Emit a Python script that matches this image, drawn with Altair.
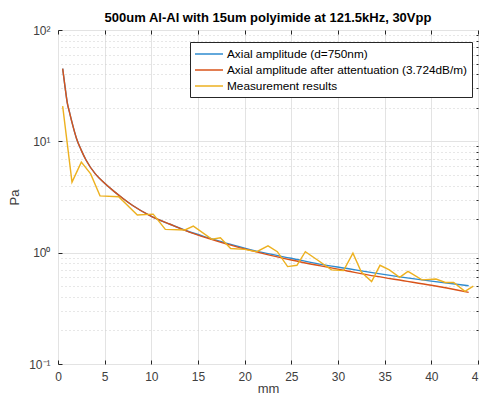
import altair as alt
import pandas as pd

# Theoretical curves
theory_x = [0.5, 0.75, 1, 1.25, 1.5, 2, 2.5, 3, 4, 5, 6, 7, 8, 10, 12, 14, 16, 18, 20, 22, 25, 28, 31, 34, 37, 40, 44]
axial = [45, 31, 22, 18, 14.8, 10.5, 8.3, 6.8, 5.1, 4.2, 3.55, 3.05, 2.65, 2.12, 1.8, 1.55, 1.37, 1.22, 1.1, 1.0, 0.89, 0.79, 0.72, 0.655, 0.60, 0.555, 0.505]
attenuated = [45, 31, 22, 18, 14.8, 10.5, 8.3, 6.8, 5.1, 4.2, 3.55, 3.05, 2.65, 2.12, 1.8, 1.54, 1.35, 1.2, 1.08, 0.98, 0.86, 0.765, 0.685, 0.615, 0.56, 0.51, 0.44]

# Measurement results
meas_x = [0.5, 1.5, 2.5, 3.5, 4.5, 6.5, 8.5, 10.2, 11.5, 13.6, 14.5, 16.5, 17.4, 18.5, 20.0, 21.3, 22.5, 23.5,
          24.6, 25.6, 26.5, 27.8, 29.3, 30.6, 31.6, 32.5, 33.6, 34.5, 35.5, 36.6, 37.5, 39.0, 40.5, 41.5, 42.4, 43.6, 44.5]
meas_y = [20.7, 4.3, 6.5, 5.1, 3.24, 3.18, 2.18, 2.22, 1.62, 1.60, 1.73, 1.32, 1.36, 1.09, 1.07, 1.02, 1.15, 1.02,
          0.75, 0.77, 1.02, 0.86, 0.70, 0.69, 0.99, 0.67, 0.55, 0.77, 0.70, 0.60, 0.68, 0.57, 0.58, 0.54, 0.54, 0.45, 0.50]

series_names = ["Axial amplitude (d=750nm)",
                "Axial amplitude after attentuation (3.724dB/m)",
                "Measurement results"]
series_colors = ["#2E8BCF", "#D95319", "#EDB120"]

x_ticks = [0, 5, 10, 15, 20, 25, 30, 35, 40, 45]
y_major = [0.1, 1, 10, 100]
y_minor = [m * 10.0 ** k for k in (-1, 0, 1) for m in range(2, 10)]

rows = []
for x, y in zip(theory_x, axial):
    rows.append({"mm": x, "Pa": y, "series": series_names[0]})
for x, y in zip(theory_x, attenuated):
    rows.append({"mm": x, "Pa": y, "series": series_names[1]})
for x, y in zip(meas_x, meas_y):
    rows.append({"mm": x, "Pa": y, "series": series_names[2]})
df = pd.DataFrame(rows)

FONT = "Liberation Sans"

xscale = alt.Scale(domain=[0, 45], nice=False, zero=False)
yscale = alt.Scale(type="log", domain=[0.1, 100], nice=False)

color = alt.Color("series:N",
                  scale=alt.Scale(domain=series_names, range=series_colors),
                  sort=series_names,
                  legend=alt.Legend(title=None, orient="none", legendX=132, legendY=12,
                                    symbolType="M-2,0L2,0", symbolSize=196, symbolStrokeWidth=1.5,
                                    symbolOffset=7, labelOffset=10,
                                    labelFont=FONT, labelFontSize=11.8, labelColor="#000000",
                                    labelLimit=0,
                                    padding=4, rowPadding=1,
                                    strokeColor="#262626", fillColor="#ffffff"))

label_expr = ("datum.value >= 99 ? '10\u00b2' : datum.value >= 9.9 ? '10\u00b9' : "
              "datum.value >= 0.99 ? '10\u2070' : '10\u207b\u00b9'")

def line_layer(name, interp):
    return alt.Chart(df).transform_filter(alt.datum.series == name).mark_line(
        strokeWidth=1.4, interpolate=interp, clip=True
    ).encode(
        x=alt.X("mm:Q", scale=xscale,
                axis=alt.Axis(values=x_ticks, title="mm", grid=True, gridColor="#e3e3e3",
                              domain=False, ticks=True, tickColor="#262626", tickSize=4, offset=-4,
                              labelPadding=7, labelFont=FONT, labelFontSize=12, labelColor="#404040",
                              titleFont=FONT, titleFontSize=13, titleFontWeight="normal",
                              titleColor="#404040", titlePadding=0, labelFlush=False)),
        y=alt.Y("Pa:Q", scale=yscale,
                axis=alt.Axis(values=y_major, title="Pa", grid=True, gridColor="#e3e3e3",
                              domain=False, ticks=True, tickColor="#262626", tickSize=4, offset=-4,
                              labelExpr=label_expr, labelPadding=8,
                              labelFont=FONT, labelFontSize=12, labelColor="#404040",
                              titleFont=FONT, titleFontSize=13, titleFontWeight="normal",
                              titleColor="#404040", titlePadding=7)),
        color=color,
    )

lines = alt.layer(
    line_layer(series_names[0], "monotone"),
    line_layer(series_names[1], "monotone"),
    line_layer(series_names[2], "linear"),
)

minor = alt.Chart(df).mark_point(opacity=0).encode(
    x=alt.X("mm:Q", scale=xscale,
            axis=alt.Axis(orient="top", values=x_ticks, title=None, labels=False, grid=False,
                          domain=False, tickColor="#262626", tickSize=4, offset=-4)),
    y=alt.Y("Pa:Q", scale=yscale,
            axis=alt.Axis(orient="right", values=y_minor, title=None, labels=False, grid=True,
                          gridColor="#cfcfcf", gridDash=[1, 3], domain=False,
                          tickColor="#262626", tickSize=2, offset=-2)),
)

chart = alt.layer(lines, minor).resolve_axis(x="independent", y="independent").properties(
    width=420, height=334,
    title=alt.Title("500um Al-Al with 15um polyimide at 121.5kHz, 30Vpp",
                    font=FONT, fontSize=13, fontWeight="bold", color="#000000",
                    offset=-1, frame="group"),
    autosize=alt.AutoSizeParams(type="none"),
    padding={"left": 50, "top": 22, "right": 1, "bottom": 32},
).configure_view(stroke="#262626", strokeWidth=1).configure(background="#ffffff")

chart.save("out.html", embed_options={"renderer": "svg", "actions": False})
